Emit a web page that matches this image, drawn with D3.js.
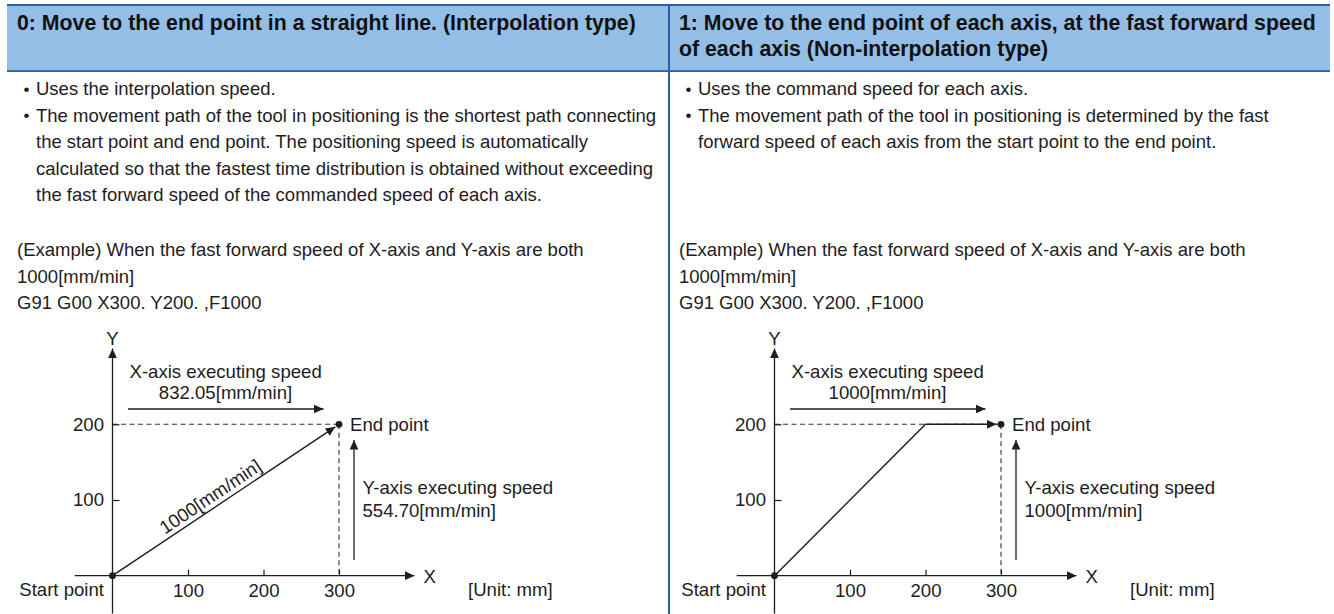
<!DOCTYPE html>
<html><head><meta charset="utf-8">
<script src="https://cdn.jsdelivr.net/npm/d3@7"></script>
<style>
html,body{margin:0;padding:0;background:#fff;}
svg{display:block;}
</style></head>
<body>
<svg id="chart" width="1334" height="614"></svg>
<script>
// ---------------- data ----------------
const headers = [
  ["0: Move to the end point in a straight line. (Interpolation type)"],
  ["1: Move to the end point of each axis, at the fast forward speed", "of each axis (Non-interpolation type)"]
];
const bodyLeft = [
  {bullet:true, text:"Uses the interpolation speed."},
  {bullet:true, text:"The movement path of the tool in positioning is the shortest path connecting"},
  {bullet:false, text:"the start point and end point. The positioning speed is automatically"},
  {bullet:false, text:"calculated so that the fastest time distribution is obtained without exceeding"},
  {bullet:false, text:"the fast forward speed of the commanded speed of each axis."}
];
const bodyRight = [
  {bullet:true, text:"Uses the command speed for each axis."},
  {bullet:true, text:"The movement path of the tool in positioning is determined by the fast"},
  {bullet:false, text:"forward speed of each axis from the start point to the end point."}
];
const exampleLines = [
  "(Example) When the fast forward speed of X-axis and Y-axis are both",
  "1000[mm/min]",
  "G91 G00 X300. Y200. ,F1000"
];
const xTicks = [100, 200, 300];
const yTicks = [100, 200];
const startPoint = [0, 0];
const endPoint = [300, 200];
const pathInterp = [[0, 0], [300, 200]];
const pathNonInterp = [[0, 0], [200, 200], [300, 200]];
const speedsInterp = {feed: "1000", x: "832.05", y: "554.70"};
const speedsNonInterp = {feed: null, x: "1000", y: "1000"};
const unitLabel = "[Unit: mm]";

// ---------------- style ----------------
const FONT = "'Liberation Sans', Arial, Helvetica, sans-serif";
const INK = "#1e1c1d";
const BLUE = "#2e5ea9";
const HEAD_BG = "#94bee6";
const BODY_FS = 18.5;
const CHART_FS = 18.6;

const svg = d3.select("#chart");

// header band
svg.append("rect").attr("x", 7).attr("y", 5).attr("width", 1323).attr("height", 66).attr("fill", HEAD_BG);
svg.append("line").attr("x1", 7).attr("x2", 1330).attr("y1", 5).attr("y2", 5).attr("stroke", BLUE).attr("stroke-width", 2);
svg.append("line").attr("x1", 7).attr("x2", 1330).attr("y1", 71.2).attr("y2", 71.2).attr("stroke", BLUE).attr("stroke-width", 1.8);
svg.append("line").attr("x1", 669).attr("x2", 669).attr("y1", 4).attr("y2", 614).attr("stroke", BLUE).attr("stroke-width", 2);

// markers
const defs = svg.append("defs");
defs.append("marker").attr("id", "arr").attr("viewBox", "0 -5 10 10")
  .attr("refX", 10).attr("refY", 0).attr("markerUnits", "userSpaceOnUse")
  .attr("markerWidth", 10.5).attr("markerHeight", 9.5).attr("orient", "auto")
  .append("path").attr("d", "M0,-4.6L10,0L0,4.6Z").attr("fill", INK);

function panel(dx, head, body, path, speeds) {
  const g = svg.append("g").attr("transform", `translate(${dx},0)`);
  // header text
  g.selectAll("text.head").data(head).join("text").attr("class", "head")
    .attr("x", 17).attr("y", (d, i) => 29.5 + i * 26.5)
    .attr("font-family", FONT).attr("font-weight", "bold").attr("font-size", 21.3)
    .attr("fill", "#111").text(d => d);
  // body text
  const bl = g.selectAll("g.bl").data(body).join("g").attr("class", "bl")
    .attr("transform", (d, i) => `translate(0,${95 + i * 26.6})`);
  bl.filter(d => d.bullet).append("text").attr("x", 23.5).attr("y", -0.5)
    .attr("font-family", FONT).attr("font-size", 17).attr("fill", INK).text("•");
  bl.append("text").attr("x", 36).attr("y", 0)
    .attr("font-family", FONT).attr("font-size", BODY_FS).attr("fill", INK).text(d => d.text);
  g.selectAll("text.ex").data(exampleLines).join("text").attr("class", "ex")
    .attr("x", 17).attr("y", (d, i) => 256 + i * 26.6)
    .attr("font-family", FONT).attr("font-size", BODY_FS).attr("fill", INK).text(d => d);

  // scales
  const x = d3.scaleLinear().domain([0, 300]).range([112.5, 339]);
  const y = d3.scaleLinear().domain([0, 200]).range([575.7, 424.3]);
  const c = g.append("g");

  // dashed guides
  c.append("line").attr("x1", x(0)).attr("x2", x(endPoint[0])).attr("y1", y(endPoint[1])).attr("y2", y(endPoint[1]))
    .attr("stroke", "#333").attr("stroke-width", 1.1).attr("stroke-dasharray", "5,3.5");
  c.append("line").attr("x1", x(endPoint[0])).attr("x2", x(endPoint[0])).attr("y1", y(endPoint[1])).attr("y2", y(0))
    .attr("stroke", "#333").attr("stroke-width", 1.1).attr("stroke-dasharray", "5,3.5");

  // axes lines with arrows
  c.append("line").attr("x1", x(-50)).attr("x2", x(400)).attr("y1", y(0)).attr("y2", y(0))
    .attr("stroke", INK).attr("stroke-width", 1.3).attr("marker-end", "url(#arr)");
  c.append("line").attr("x1", x(0)).attr("x2", x(0)).attr("y1", y(-50)).attr("y2", y(300))
    .attr("stroke", INK).attr("stroke-width", 1.3).attr("marker-end", "url(#arr)");

  // ticks via d3 axes
  const ax = c.append("g").attr("transform", `translate(0,${y(0)})`)
    .call(d3.axisBottom(x).tickValues(xTicks).tickSize(-6).tickPadding(8).tickFormat(d3.format("d")));
  ax.select(".domain").remove();
  const ay = c.append("g").attr("transform", `translate(${x(0)},0)`)
    .call(d3.axisLeft(y).tickValues(yTicks).tickSize(-7).tickPadding(8.5).tickFormat(d3.format("d")));
  ay.select(".domain").remove();
  [ax, ay].forEach(a => {
    a.attr("font-family", FONT).attr("font-size", CHART_FS);
    a.selectAll("line").attr("stroke", INK).attr("stroke-width", 1.2);
    a.selectAll("text").attr("fill", INK);
  });

  const txt = (t, px, py, anchor) => c.append("text").attr("x", px).attr("y", py)
    .attr("text-anchor", anchor || "start").attr("font-family", FONT).attr("font-size", CHART_FS)
    .attr("fill", INK).text(t);

  txt("X", x(400) + 9, y(0) + 7);
  txt("Y", x(0), y(300) - 4, "middle");
  txt("Start point", x(0) - 8.5, y(0) + 20.5, "end");
  txt(unitLabel, x(0) + 355.5, y(0) + 20.5);
  txt("End point", x(endPoint[0]) + 11, y(endPoint[1]) + 6.5);

  // tool path
  const pts = path.map(p => [x(p[0]), y(p[1])]);
  const n = pts.length;
  const a = pts[n - 2], b = pts[n - 1];
  const len = Math.hypot(b[0] - a[0], b[1] - a[1]);
  const sh = 4.5;
  const last = [b[0] - (b[0] - a[0]) / len * sh, b[1] - (b[1] - a[1]) / len * sh];
  const drawPts = pts.slice(0, n - 1).concat([last]);
  c.append("path").attr("d", d3.line()(drawPts)).attr("fill", "none")
    .attr("stroke", INK).attr("stroke-width", 1.4).attr("stroke-linejoin", "miter")
    .attr("marker-end", "url(#arr)");

  // points
  c.selectAll("circle.pt").data([startPoint, endPoint]).join("circle").attr("class", "pt")
    .attr("cx", d => x(d[0])).attr("cy", d => y(d[1])).attr("r", 3.4).attr("fill", INK);

  // feed label along straight path
  if (speeds.feed) {
    const p0 = pts[0], p1 = pts[n - 1];
    const ang = Math.atan2(p1[1] - p0[1], p1[0] - p0[0]) * 180 / Math.PI;
    const t = 0.46;
    const mx = p0[0] + (p1[0] - p0[0]) * t, my = p0[1] + (p1[1] - p0[1]) * t;
    c.append("text").attr("transform", `translate(${mx},${my}) rotate(${ang}) translate(0,-5)`)
      .attr("text-anchor", "middle").attr("font-family", FONT).attr("font-size", CHART_FS)
      .attr("fill", INK).text(speeds.feed + "[mm/min]");
  }

  // X-axis speed annotation
  const ya = y(endPoint[1]);
  txt("X-axis executing speed", x(0) + 17, ya - 46);
  txt(speeds.x + "[mm/min]", x(0) + 113, ya - 25.3, "middle");
  c.append("line").attr("x1", x(0) + 15.5).attr("x2", x(0) + 211).attr("y1", ya - 15.3).attr("y2", ya - 15.3)
    .attr("stroke", INK).attr("stroke-width", 1.3).attr("marker-end", "url(#arr)");

  // Y-axis speed annotation
  const xa = x(endPoint[0]);
  c.append("line").attr("x1", xa + 15).attr("x2", xa + 15).attr("y1", y(0) - 15.7).attr("y2", ya + 15.7)
    .attr("stroke", INK).attr("stroke-width", 1.3).attr("marker-end", "url(#arr)");
  txt("Y-axis executing speed", xa + 23.5, y(100) - 6);
  txt(speeds.y + "[mm/min]", xa + 23.5, y(100) + 16.7);
}

panel(0, headers[0], bodyLeft, pathInterp, speedsInterp);
panel(662, headers[1], bodyRight, pathNonInterp, speedsNonInterp);
</script>
</body></html>
